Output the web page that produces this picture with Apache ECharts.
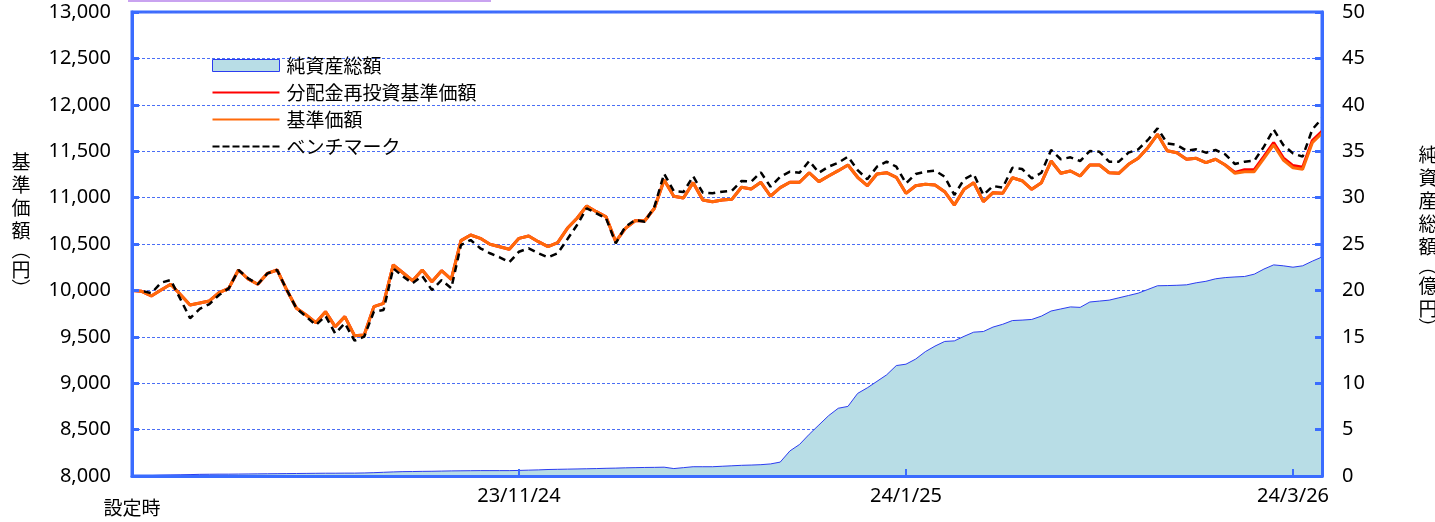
<!DOCTYPE html>
<html><head><meta charset="utf-8">
<script src="https://cdn.jsdelivr.net/npm/echarts@6/dist/echarts.min.js"></script>
<style>html,body{margin:0;padding:0;background:#fff}#c{width:1435px;height:522px}</style>
</head><body><div id="c"></div><script>
// ---- data ----
const dates = [
'23/9/26','23/9/27','23/9/28','23/9/29',
'23/10/2','23/10/3','23/10/4','23/10/5','23/10/6',
'23/10/10','23/10/11','23/10/12','23/10/13',
'23/10/16','23/10/17','23/10/18','23/10/19','23/10/20',
'23/10/23','23/10/24','23/10/25','23/10/26','23/10/27',
'23/10/30','23/10/31','23/11/1','23/11/2',
'23/11/6','23/11/7','23/11/8','23/11/9','23/11/10',
'23/11/13','23/11/14','23/11/15','23/11/16','23/11/17',
'23/11/20','23/11/21','23/11/22','23/11/24',
'23/11/27','23/11/28','23/11/29','23/11/30','23/12/1',
'23/12/4','23/12/5','23/12/6','23/12/7','23/12/8',
'23/12/11','23/12/12','23/12/13','23/12/14','23/12/15',
'23/12/18','23/12/19','23/12/20','23/12/21','23/12/22',
'23/12/25','23/12/26','23/12/27','23/12/28','23/12/29',
'24/1/4','24/1/5',
'24/1/9','24/1/10','24/1/11','24/1/12',
'24/1/15','24/1/16','24/1/17','24/1/18','24/1/19',
'24/1/22','24/1/23','24/1/24','24/1/25','24/1/26',
'24/1/29','24/1/30','24/1/31','24/2/1','24/2/2',
'24/2/5','24/2/6','24/2/7','24/2/8','24/2/9',
'24/2/13','24/2/14','24/2/15','24/2/16',
'24/2/19','24/2/20','24/2/21','24/2/22',
'24/2/26','24/2/27','24/2/28','24/2/29','24/3/1',
'24/3/4','24/3/5','24/3/6','24/3/7','24/3/8',
'24/3/11','24/3/12','24/3/13','24/3/14','24/3/15',
'24/3/18','24/3/19','24/3/21','24/3/22',
'24/3/25','24/3/26','24/3/27','24/3/28','24/3/29'
];
const labeledDates = ['23/9/26','23/11/24','24/1/25','24/3/26'];
const tickTexts = ['設定時','23/11/24','24/1/25','24/3/26'];
const leftTicks = [8000, 13000, 500];   // min, max, step
const rightTicks = [0, 50, 5];

// 基準価額 (円)
const nav = [
10000,9990,9940,10005,10066,9955,9843,9864,9886,9975,
10022,10220,10123,10066,10184,10220,10004,9807,9735,9652,
9771,9609,9717,9512,9519,9825,9861,10274,10190,10105,
10220,10094,10212,10120,10536,10597,10561,10497,10471,10443,
10561,10586,10525,10471,10514,10669,10777,10909,10848,10794,
10525,10669,10751,10751,10885,11190,11015,10995,11161,10974,
10956,10974,10981,11111,11093,11165,11017,11107,11165,11165,
11268,11172,11233,11290,11351,11219,11128,11254,11268,11219,
11046,11128,11143,11136,11064,10920,11089,11161,10956,11053,
11046,11214,11182,11089,11161,11394,11262,11287,11233,11351,
11351,11268,11262,11359,11423,11538,11682,11505,11484,11413,
11423,11376,11413,11351,11262,11279,11279,11423,11567,11405,
11322,11305,11592,11693
];
// 分配金再投資基準価額 (円)
const navReinvest = [
10000,9990,9940,10005,10066,9955,9843,9864,9886,9975,
10022,10220,10123,10066,10184,10220,10004,9807,9735,9652,
9771,9609,9717,9512,9519,9825,9861,10274,10190,10105,
10220,10094,10212,10120,10536,10597,10561,10497,10471,10443,
10561,10586,10525,10471,10514,10669,10777,10909,10848,10794,
10525,10669,10751,10751,10885,11190,11015,10995,11161,10974,
10956,10974,10981,11111,11093,11165,11017,11107,11165,11165,
11268,11172,11233,11290,11351,11219,11128,11254,11268,11219,
11046,11128,11143,11136,11064,10920,11089,11161,10956,11053,
11046,11214,11182,11089,11161,11394,11262,11287,11233,11351,
11351,11268,11262,11359,11423,11538,11682,11505,11484,11413,
11423,11376,11413,11351,11270,11300,11302,11445,11592,11428,
11345,11327,11614,11715
];
// ベンチマーク
const bench = [
10000,9995,9970,10083,10112,9907,9700,9800,9853,9950,
10022,10220,10130,10066,10184,10220,10004,9807,9717,9627,
9724,9537,9645,9458,9501,9771,9788,10238,10150,10077,
10155,10004,10112,10023,10489,10543,10454,10400,10357,10303,
10417,10454,10400,10357,10400,10551,10705,10885,10831,10777,
10508,10687,10759,10740,10902,11258,11070,11060,11230,11053,
11046,11064,11074,11179,11172,11272,11117,11225,11279,11268,
11394,11268,11333,11376,11441,11297,11197,11333,11387,11333,
11154,11254,11279,11290,11225,11028,11197,11254,11028,11125,
11107,11322,11308,11208,11268,11513,11413,11434,11394,11502,
11494,11387,11387,11484,11520,11621,11746,11585,11567,11505,
11520,11484,11513,11466,11362,11387,11397,11549,11735,11567,
11477,11441,11735,11854
];
// 純資産総額 (億円)
const netAssets = [
0.00,0.03,0.05,0.08,0.10,0.12,0.15,0.18,0.19,0.20,
0.20,0.21,0.22,0.23,0.24,0.25,0.26,0.27,0.28,0.29,
0.30,0.30,0.31,0.31,0.33,0.36,0.40,0.44,0.47,0.48,
0.50,0.51,0.53,0.55,0.56,0.57,0.58,0.58,0.58,0.58,
0.60,0.63,0.66,0.70,0.72,0.74,0.76,0.78,0.80,0.83,
0.85,0.88,0.90,0.92,0.93,0.95,0.80,0.90,1.00,1.00,
1.00,1.05,1.10,1.15,1.18,1.22,1.30,1.50,2.70,3.40,
4.50,5.50,6.50,7.30,7.50,8.90,9.50,10.20,10.90,11.90,
12.05,12.60,13.40,14.00,14.50,14.56,15.05,15.50,15.57,16.05,
16.35,16.75,16.80,16.87,17.23,17.78,18.00,18.22,18.17,18.75,
18.85,18.95,19.20,19.45,19.70,20.10,20.50,20.52,20.55,20.60,
20.82,20.98,21.25,21.38,21.45,21.50,21.75,22.30,22.75,22.65,
22.50,22.65,23.15,23.60
];

// ---- chart ----
const AXIS = '#3a6cff';
const GRIDLINE = '#4a6ef5';
const labelMap = {};
labeledDates.forEach((d, i) => { labelMap[d] = tickTexts[i]; });
const NUM = '"Noto Sans", "Liberation Sans", sans-serif';
const JP = '"Noto Sans CJK JP", sans-serif';

// legend icon shapes (solid bar and dashed bar)
const solidIcon = 'path://M0,0H67V2H0Z';
let dashPath = 'path://';
for (let k = 0; k < 7; k++) { dashPath += 'M' + (k * 10) + ',0H' + (k * 10 + 7) + 'V2H' + (k * 10) + 'Z'; }

const chart = echarts.init(document.getElementById('c'), null, {renderer: 'canvas'});
const axisCommon = {
  axisLine: {show: true, lineStyle: {color: AXIS, width: 3}},
  axisTick: {show: true, inside: true, length: 7, lineStyle: {color: AXIS, width: 3}},
  splitLine: {show: false},
  z: 10
};
chart.setOption({
  animation: false,
  backgroundColor: '#fff',
  grid: {left: 132, right: 113, top: 12, bottom: 46, show: true, borderColor: AXIS, borderWidth: 3, backgroundColor: 'transparent'},
  legend: {
    orient: 'vertical', left: 212, top: 56, padding: 0, itemWidth: 67, itemHeight: 12, itemGap: 8,
    selectedMode: false, symbolKeepAspect: true,
    textStyle: {fontSize: 19, lineHeight: 18, color: '#000', fontFamily: JP, padding: [0, 0, 0, 2]},
    data: [
      {name: '純資産総額', icon: 'rect', itemStyle: {color: '#b8dde6', borderColor: '#2b3cf0', borderWidth: 1}},
      {name: '分配金再投資基準価額', icon: solidIcon, itemStyle: {color: '#ff0000'}},
      {name: '基準価額', icon: solidIcon, itemStyle: {color: '#ff6a0a'}},
      {name: 'ベンチマーク', icon: dashPath, itemStyle: {color: '#000'}}
    ]
  },
  xAxis: Object.assign({}, axisCommon, {
    type: 'category', data: dates, boundaryGap: false,
    axisTick: {show: true, inside: true, length: 7, lineStyle: {color: AXIS, width: 2},
      interval: (i, v) => labelMap[v] !== undefined && i > 0},
    axisLabel: {
      interval: (i, v) => labelMap[v] !== undefined,
      formatter: (v, i) => i === 0 ? '{s|' + labelMap[v] + '}' : labelMap[v],
      color: '#000', fontSize: 20, fontFamily: NUM, margin: 10,
      rich: {s: {fontSize: 19, fontFamily: JP, color: '#000', padding: [12, 0, 0, 0]}}
    }
  }),
  yAxis: [
    Object.assign({}, axisCommon, {
      type: 'value', min: leftTicks[0], max: leftTicks[1], interval: leftTicks[2], position: 'left',
      axisLabel: {color: '#000', fontSize: 20, fontFamily: NUM, margin: 21,
        formatter: v => v.toLocaleString('en-US')}
    }),
    Object.assign({}, axisCommon, {
      type: 'value', min: rightTicks[0], max: rightTicks[1], interval: rightTicks[2], position: 'right',
      axisLabel: {color: '#000', fontSize: 20, fontFamily: NUM, margin: 20}
    }),
    {
      type: 'value', min: leftTicks[0], max: leftTicks[1], interval: leftTicks[2], position: 'left',
      axisLine: {show: false}, axisTick: {show: false}, axisLabel: {show: false},
      splitLine: {show: true, lineStyle: {color: GRIDLINE, width: 1, type: [3, 2]}}, z: 0
    }
  ],
  series: [
    {name: '純資産総額', type: 'line', yAxisIndex: 1, data: netAssets, symbol: 'none',
      lineStyle: {color: '#2b3cf0', width: 1}, itemStyle: {color: '#b8dde6'},
      areaStyle: {color: '#b8dde6', opacity: 1}, z: 1},
    {name: '分配金再投資基準価額', type: 'line', yAxisIndex: 0, data: navReinvest, symbol: 'none',
      lineStyle: {color: '#ff0000', width: 3}, itemStyle: {color: '#ff0000'}, z: 2},
    {name: '基準価額', type: 'line', yAxisIndex: 0, data: nav, symbol: 'none',
      lineStyle: {color: '#ff6a0a', width: 3}, itemStyle: {color: '#ff6a0a'}, z: 3},
    {name: 'ベンチマーク', type: 'line', yAxisIndex: 0, data: bench, symbol: 'none',
      lineStyle: {color: '#000', width: 2.5, type: [7, 5]}, itemStyle: {color: '#000'}, z: 4}
  ],
  graphic: [
    {type: 'rect', x: 128, y: 0, shape: {width: 363, height: 2}, style: {fill: '#c9a3f0'}, silent: true},
    {type: 'text', x: 21, y: 150, silent: true, style: {
      text: '{c|基}\n{c|準}\n{c|価}\n{c|額}\n{p|︵}\n{c|円}\n{p|︶}', align: 'center', verticalAlign: 'top',
      fill: '#000',
      rich: {c: {fontSize: 19, lineHeight: 23, fontFamily: JP, align: 'center'},
             p: {fontSize: 19, lineHeight: 16, fontFamily: JP, align: 'center'}}}},
    {type: 'text', x: 1428, y: 143, silent: true, style: {
      text: '{c|純}\n{c|資}\n{c|産}\n{c|総}\n{c|額}\n{p|︵}\n{c|億}\n{c|円}\n{p|︶}', align: 'center', verticalAlign: 'top',
      fill: '#000',
      rich: {c: {fontSize: 19, lineHeight: 23, fontFamily: JP, align: 'center'},
             p: {fontSize: 19, lineHeight: 16, fontFamily: JP, align: 'center'}}}}
  ]
});
</script></body></html>
